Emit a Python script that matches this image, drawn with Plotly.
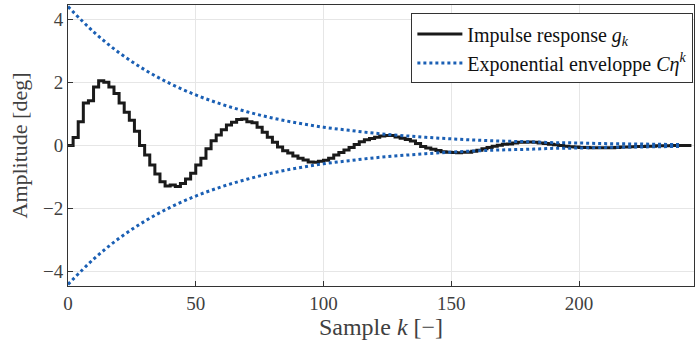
import plotly.graph_objects as go

# Impulse response samples (k step 2)
k_imp = list(range(0, 246, 2))
g_imp = [0.0, 0.25, 0.75, 1.35, 1.42, 1.85, 2.05, 2.0, 1.85, 1.65,
         1.35, 1.05, 0.8, 0.45, 0.0, -0.3, -0.62, -0.9, -1.15, -1.28,
         -1.25, -1.3, -1.2, -1.06, -0.88, -0.62, -0.4, -0.1, 0.15, 0.33,
         0.5, 0.65, 0.74, 0.82, 0.84, 0.75, 0.72, 0.58, 0.42, 0.26,
         0.1, -0.05, -0.17, -0.24, -0.33, -0.4, -0.46, -0.52, -0.53, -0.5,
         -0.47, -0.4, -0.3, -0.22, -0.14, -0.06, 0.03, 0.12, 0.18, 0.22,
         0.26, 0.3, 0.32, 0.32, 0.27, 0.23, 0.19, 0.14, 0.06, -0.03,
         -0.08, -0.12, -0.16, -0.2, -0.21, -0.22, -0.23, -0.21, -0.21, -0.18,
         -0.15, -0.1, -0.06, -0.02, 0.01, 0.04, 0.05, 0.08, 0.1, 0.1,
         0.11, 0.1, 0.08, 0.06, 0.04, 0.02, 0.0, -0.02, -0.04, -0.05,
         -0.06, -0.06, -0.07, -0.07, -0.07, -0.07, -0.07, -0.06, -0.05, -0.05,
         -0.04, -0.03, -0.03, -0.02, -0.02, -0.01, -0.01, -0.01, 0.0, 0.0,
         0.0, 0.0, 0.0]

# Exponential envelope values (k step 10)
k_env = list(range(0, 250, 10))
env_upper = [4.40, 3.60, 2.94, 2.40, 1.96, 1.60, 1.31, 1.07, 0.87, 0.71,
             0.58, 0.48, 0.39, 0.32, 0.26, 0.21, 0.17, 0.14, 0.12, 0.09,
             0.08, 0.06, 0.05, 0.04, 0.03]
env_lower = [-v for v in env_upper]

x_ticks = [0, 50, 100, 150, 200]
y_ticks = [-4, -2, 0, 2, 4]

BLUE = "#1a5fb4"
FONT = "Liberation Serif"
TXT = "#404040"

fig = go.Figure()
fig.add_trace(go.Scatter(x=k_imp, y=g_imp, mode="lines", line=dict(color="#1a1a1a", width=3, shape="hv"),
                         name="Impulse response <i>g<sub>k</sub></i>"))
fig.add_trace(go.Scatter(x=k_env, y=env_upper, mode="lines", line=dict(color=BLUE, width=3, dash="dot", shape="spline"),
                         name="Exponential enveloppe <i>Cη<sup>k</sup></i>"))
fig.add_trace(go.Scatter(x=k_env, y=env_lower, mode="lines", line=dict(color=BLUE, width=3, dash="dot", shape="spline"),
                         showlegend=False))

axis_common = dict(showline=True, linecolor="#333333", linewidth=1, mirror=True,
                   showgrid=True, gridcolor="#e6e6e6", gridwidth=1, zeroline=False,
                   ticks="inside", ticklen=5, tickcolor="#333333",
                   tickfont=dict(family=FONT, size=19, color=TXT))

fig.update_layout(
    width=695, height=346,
    margin=dict(l=68, r=1, t=5, b=60, autoexpand=False),
    paper_bgcolor="white", plot_bgcolor="white",
    font=dict(family=FONT, color=TXT),
    xaxis=dict(range=[0, 245], tickvals=x_ticks,
               title=dict(text="Sample <i>k</i> [−]", font=dict(family=FONT, size=24, color=TXT), standoff=4),
               **axis_common),
    yaxis=dict(range=[-4.45, 4.45], tickvals=y_ticks,
               title=dict(text="Amplitude [deg]", font=dict(family=FONT, size=22, color=TXT), standoff=9),
               **axis_common),
    legend=dict(x=0.999, y=0.97, xanchor="right", yanchor="top",
                bgcolor="white", bordercolor="#333333", borderwidth=1,
                font=dict(family=FONT, size=20, color="#111111"),
                tracegroupgap=0, itemwidth=45),
    showlegend=True,
)

fig.write_html("out.html", config={"displayModeBar": False},
               post_script="document.body.style.margin='0';document.body.style.padding='0';")
